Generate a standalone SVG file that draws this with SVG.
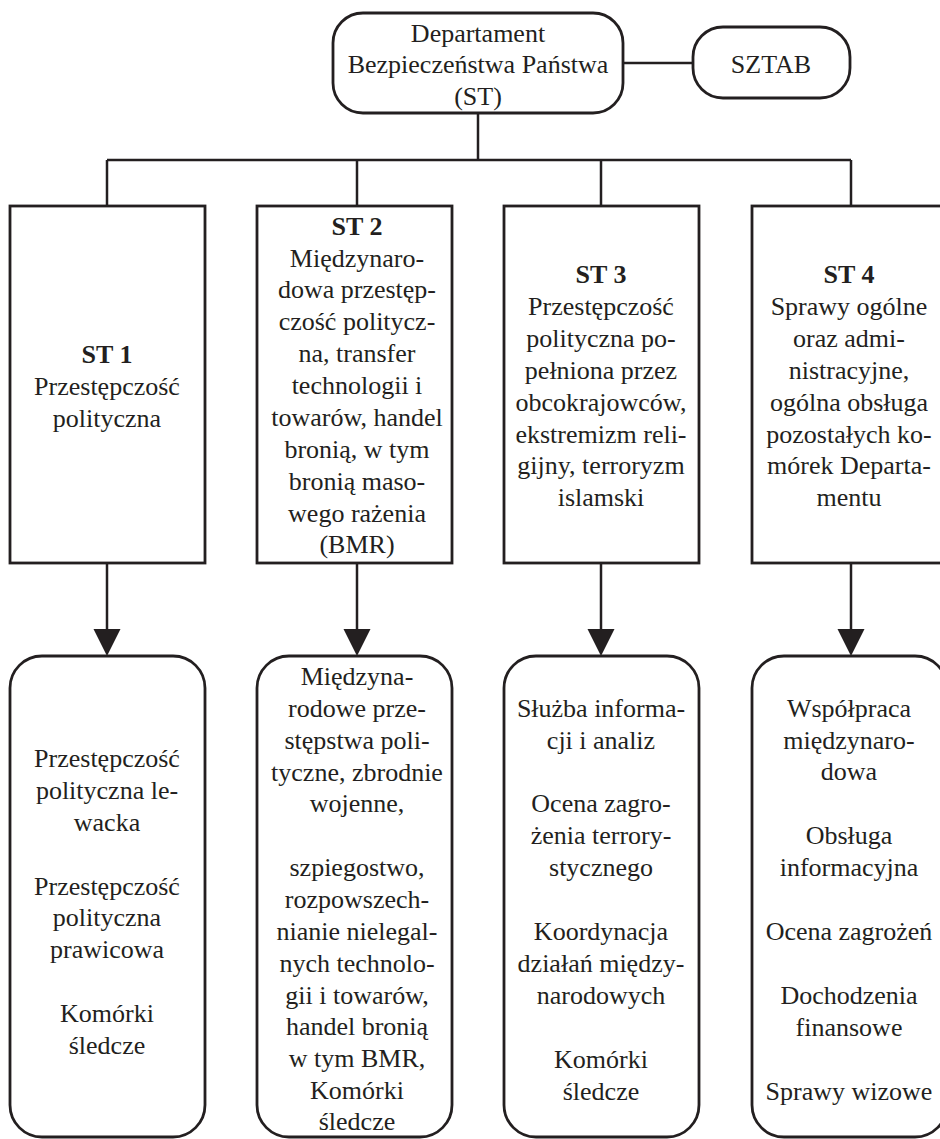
<svg xmlns="http://www.w3.org/2000/svg" width="940" height="1139" viewBox="0 0 940 1139">
<style>
.box{fill:#fff;stroke:#231f20;stroke-width:2.8}
.ln{stroke:#231f20;stroke-width:2.5;fill:none}
.ah{fill:#231f20}
text{font-family:"Liberation Serif","Times New Roman",serif;font-size:26px;fill:#231f20;text-anchor:middle}
.b{font-weight:bold}
</style>
<rect width="940" height="1139" fill="#fff"/>
<g id="connectors">
<line class="ln" x1="623" y1="63" x2="693" y2="63"/>
<line class="ln" x1="478" y1="113" x2="478" y2="160"/>
<line class="ln" x1="107" y1="160" x2="851" y2="160"/>
<line class="ln" x1="107" y1="160" x2="107" y2="206"/>
<line class="ln" x1="357" y1="160" x2="357" y2="206"/>
<line class="ln" x1="601" y1="160" x2="601" y2="206"/>
<line class="ln" x1="851" y1="160" x2="851" y2="206"/>
<line class="ln" x1="107" y1="563" x2="107" y2="630"/>
<line class="ln" x1="357" y1="563" x2="357" y2="630"/>
<line class="ln" x1="601" y1="563" x2="601" y2="630"/>
<line class="ln" x1="851" y1="563" x2="851" y2="630"/>
<polygon class="ah" points="93.5,629 120.5,629 107,656"/>
<polygon class="ah" points="343.5,629 370.5,629 357,656"/>
<polygon class="ah" points="587.5,629 614.5,629 601,656"/>
<polygon class="ah" points="837.5,629 864.5,629 851,656"/>
</g>
<g id="dept">
<rect class="box" x="333" y="13" width="290" height="100" rx="30"/>
<text x="478" y="42">Departament</text>
<text x="478" y="73">Bezpieczeństwa Państwa</text>
<text x="478" y="105">(ST)</text>
</g>
<g id="sztab">
<rect class="box" x="693" y="27" width="157" height="71" rx="30"/>
<text x="771" y="73">SZTAB</text>
</g>
<g id="st1">
<rect class="box" x="10" y="206" width="195" height="357"/>
<text x="107" y="363" class="b">ST 1</text>
<text x="107" y="395">Przestępczość</text>
<text x="107" y="427">polityczna</text>
</g>
<g id="st2">
<rect class="box" x="257" y="206" width="195" height="357"/>
<text x="357" y="235" class="b">ST 2</text>
<text x="357" y="267">Międzynaro-</text>
<text x="357" y="298">dowa przestęp-</text>
<text x="357" y="330">czość politycz-</text>
<text x="357" y="362">na, transfer</text>
<text x="357" y="394">technologii i</text>
<text x="357" y="426">towarów, handel</text>
<text x="357" y="458">bronią, w tym</text>
<text x="357" y="490">bronią maso-</text>
<text x="357" y="522">wego rażenia</text>
<text x="357" y="553">(BMR)</text>
</g>
<g id="st3">
<rect class="box" x="504" y="206" width="195" height="357"/>
<text x="601" y="283" class="b">ST 3</text>
<text x="601" y="315">Przestępczość</text>
<text x="601" y="347">polityczna po-</text>
<text x="601" y="379">pełniona przez</text>
<text x="601" y="411">obcokrajowców,</text>
<text x="601" y="443">ekstremizm reli-</text>
<text x="601" y="474">gijny, terroryzm</text>
<text x="601" y="506">islamski</text>
</g>
<g id="st4">
<rect class="box" x="752" y="206" width="195" height="357"/>
<text x="849" y="283" class="b">ST 4</text>
<text x="849" y="315">Sprawy ogólne</text>
<text x="849" y="347">oraz admi-</text>
<text x="849" y="379">nistracyjne,</text>
<text x="849" y="411">ogólna obsługa</text>
<text x="849" y="443">pozostałych ko-</text>
<text x="849" y="474">mórek Departa-</text>
<text x="849" y="506">mentu</text>
</g>
<g id="st1-units">
<rect class="box" x="10" y="656" width="195" height="481" rx="32"/>
<text x="107" y="767">Przestępczość</text>
<text x="107" y="799">polityczna le-</text>
<text x="107" y="831">wacka</text>
<text x="107" y="895">Przestępczość</text>
<text x="107" y="926">polityczna</text>
<text x="107" y="958">prawicowa</text>
<text x="107" y="1022">Komórki</text>
<text x="107" y="1054">śledcze</text>
</g>
<g id="st2-units">
<rect class="box" x="257" y="656" width="195" height="481" rx="32"/>
<text x="357" y="685">Międzyna-</text>
<text x="357" y="717">rodowe prze-</text>
<text x="357" y="749">stępstwa poli-</text>
<text x="357" y="781">tyczne, zbrodnie</text>
<text x="357" y="812">wojenne,</text>
<text x="357" y="876">szpiegostwo,</text>
<text x="357" y="908">rozpowszech-</text>
<text x="357" y="940">nianie nielegal-</text>
<text x="357" y="972">nych technolo-</text>
<text x="357" y="1004">gii i towarów,</text>
<text x="357" y="1035">handel bronią</text>
<text x="357" y="1067">w tym BMR,</text>
<text x="357" y="1099">Komórki</text>
<text x="357" y="1130">śledcze</text>
</g>
<g id="st3-units">
<rect class="box" x="504" y="656" width="195" height="481" rx="32"/>
<text x="601" y="717">Służba informa-</text>
<text x="601" y="749">cji i analiz</text>
<text x="601" y="812">Ocena zagro-</text>
<text x="601" y="844">żenia terrory-</text>
<text x="601" y="876">stycznego</text>
<text x="601" y="940">Koordynacja</text>
<text x="601" y="972">działań między-</text>
<text x="601" y="1004">narodowych</text>
<text x="601" y="1068">Komórki</text>
<text x="601" y="1100">śledcze</text>
</g>
<g id="st4-units">
<rect class="box" x="752" y="656" width="195" height="481" rx="32"/>
<text x="849" y="717">Współpraca</text>
<text x="849" y="749">międzynaro-</text>
<text x="849" y="780">dowa</text>
<text x="849" y="844">Obsługa</text>
<text x="849" y="876">informacyjna</text>
<text x="849" y="940">Ocena zagrożeń</text>
<text x="849" y="1004">Dochodzenia</text>
<text x="849" y="1036">finansowe</text>
<text x="849" y="1100">Sprawy wizowe</text>
</g>
</svg>
